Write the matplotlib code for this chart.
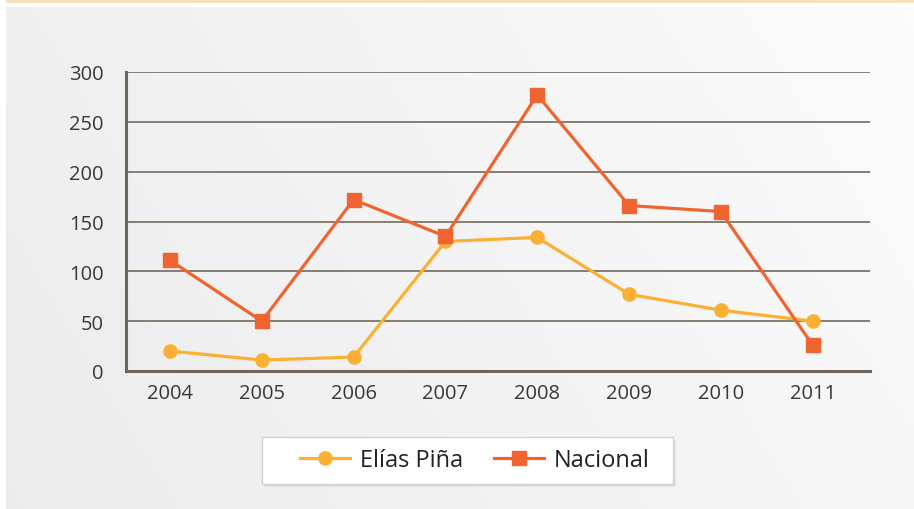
import matplotlib
matplotlib.use("Agg")
import matplotlib.pyplot as plt
import numpy as np
from matplotlib.patches import Rectangle

years = ["2004", "2005", "2006", "2007", "2008", "2009", "2010", "2011"]
elias_pina = [20, 11, 14, 130, 134, 77, 61, 50]
nacional = [111, 50, 172, 135, 277, 166, 160, 26]
y_ticks = [0, 50, 100, 150, 200, 250, 300]

plt.rcParams['font.family'] = ['Open Sans', 'DejaVu Sans']

W, H = 914, 510
fig = plt.figure(figsize=(W / 100, H / 100), dpi=100)
fig.patch.set_facecolor("white")

# background panel with gradient
bg = fig.add_axes([0, 0, 1, 1], zorder=-10)
bg.axis("off")
gx = np.linspace(0, 1, 200)
gy = np.linspace(0, 1, 100)
GX, GY = np.meshgrid(gx, gy)
t = np.clip(0.75 * GX + 0.25 * (1 - GY), 0, 1)
c0 = np.array([0.925, 0.925, 0.930])
c1 = np.array([0.985, 0.985, 0.985])
img = c0[None, None, :] * (1 - t[..., None]) + c1[None, None, :] * t[..., None]
bg.imshow(img, extent=[6, W, H, 8], aspect="auto", zorder=0)
bg.add_patch(Rectangle((6, 0), W - 6, 3.5, color="#f6dfb9", lw=0, zorder=1))
# legend box with soft shadow
for i, a in enumerate([0.05, 0.06, 0.08]):
    off = 3 - i
    bg.add_patch(Rectangle((262 + off, 438 + off), 411, 47, facecolor="black",
                           alpha=a, lw=0, zorder=2))
bg.add_patch(Rectangle((262, 438), 411, 47, facecolor="white",
                       edgecolor="#d4d4d4", lw=1.0, zorder=3))
bg.set_xlim(0, W)
bg.set_ylim(H, 0)

# main axes
left, right, top, bottom = 126, 870, 73, 372
ax = fig.add_axes([left / W, 1 - bottom / H, (right - left) / W, (bottom - top) / H])
ax.set_facecolor("none")
x = np.arange(len(years))
ax.set_xlim(-0.48, len(years) - 1 + 0.625)
ax.set_ylim(0, 300)
ax.set_yticks(y_ticks)
ax.set_xticks(x)
ax.set_xticklabels(years)
for yv in y_ticks[1:]:
    ax.axhline(yv, color="#7d7468", lw=1.3, zorder=1)
for s in ["top", "right"]:
    ax.spines[s].set_visible(False)
for s in ["left", "bottom"]:
    ax.spines[s].set_color("#6e655b")
    ax.spines[s].set_linewidth(2.2)
ax.tick_params(axis="both", length=0, labelsize=14.5, labelcolor="#383838")
ax.tick_params(axis="y", pad=16)
ax.tick_params(axis="x", pad=9)

c_e = "#fbb034"
c_n = "#f0652f"
ax.plot(x, elias_pina, color=c_e, lw=2.3, marker="o", markersize=9.5,
        label="Elías Piña", zorder=3, clip_on=False)
ax.plot(x, nacional, color=c_n, lw=2.3, marker="s", markersize=9.5,
        label="Nacional", zorder=4, clip_on=False)

leg = fig.legend(loc="center", bbox_to_anchor=(475 / W, 1 - 461.5 / H), ncol=2,
                 fontsize=17, frameon=False,
                 handlelength=2.1, handletextpad=0.45, columnspacing=1.3,
                 borderpad=0, borderaxespad=0)
for txt in leg.get_texts():
    txt.set_color("#222222")

fig.savefig("out.png", dpi=100)
